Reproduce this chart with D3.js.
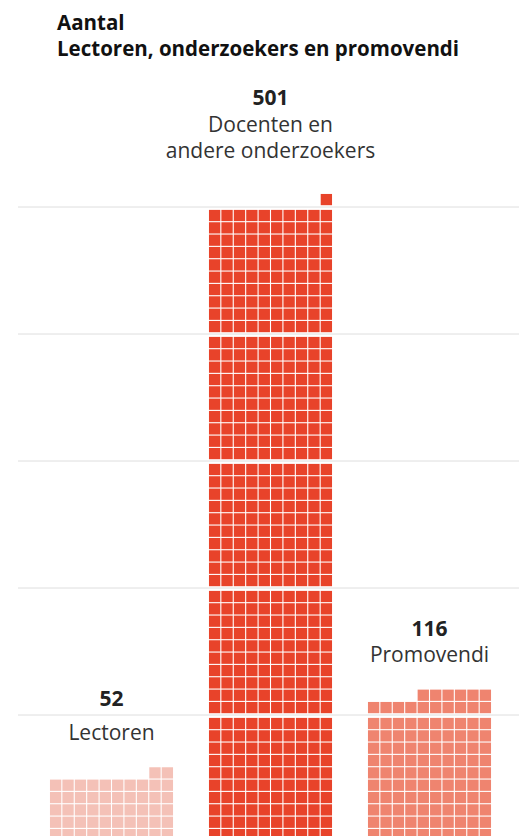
<!DOCTYPE html>
<html>
<head>
<meta charset="utf-8">
<script src="https://cdn.jsdelivr.net/npm/d3@7"></script>
<style>
  body { margin: 0; background: #fff; }
  svg { display: block; font-family: "Open Sans", sans-serif; }
</style>
</head>
<body>
<div id="chart"></div>
<script>
// Data
const categories = ["Lectoren", "Docenten", "Promovendi"];
const labelLines = [["Lectoren"], ["Docenten en", "andere onderzoekers"], ["Promovendi"]];
const counts = [52, 501, 116];
const colors = ["#f4c1b7", "#e8432a", "#ef846f"];
const gridTicks = [100, 200, 300, 400, 500];
const titleLines = ["Aantal", "Lectoren, onderzoekers en promovendi"];

const width = 519;
const height = 836;

// label placement above each column (px), tuned per column
const labelGap = [27, 36, 28];
const numberGap = [34, 27, 26];

const svg = d3.select("#chart").append("svg")
    .attr("width", width)
    .attr("height", height);

const y = d3.scaleLinear().domain([0, 500]).range([842, 207]);
const x = d3.scaleBand()
    .domain(categories)
    .range([32, 509])
    .paddingInner(0.226)
    .paddingOuter(0.113);

// gridlines every 100
svg.append("g")
    .selectAll("line")
    .data(gridTicks)
    .join("line")
        .attr("x1", 18)
        .attr("x2", width)
        .attr("y1", d => y(d))
        .attr("y2", d => y(d))
        .attr("stroke", "#dedede")
        .attr("stroke-width", 1);

// one square per person, in blocks of 10x10
const pad = 1.8;
const gap = 1.1;
const pitchY = (y(0) - y(100) - 2 * pad) / 10;
const pitchX = (x.bandwidth() + gap) / 10;

const cells = [];
categories.forEach((c, ci) => {
    for (let i = 0; i < counts[ci]; i++) {
        const block = Math.floor(i / 100);
        const k = i % 100;
        const row = Math.floor(k / 10);
        const col = 9 - (k % 10);
        cells.push({ c, ci, block, row, col });
    }
});

function cellTop(d) {
    return y(d.block * 100) - pad - d.row * pitchY - (pitchY - gap);
}

svg.append("g")
    .selectAll("rect")
    .data(cells)
    .join("rect")
        .attr("x", d => x(d.c) + d.col * pitchX)
        .attr("y", cellTop)
        .attr("width", pitchX - gap)
        .attr("height", pitchY - gap)
        .attr("fill", d => colors[d.ci]);

// labels
const labels = svg.append("g").attr("text-anchor", "middle");
categories.forEach((c, ci) => {
    const top = d3.min(cells.filter(d => d.ci === ci), cellTop);
    const cx = x(c) + x.bandwidth() / 2;
    const lines = labelLines[ci];
    const lastBase = top - labelGap[ci];
    const lineH = 26;
    lines.forEach((t, li) => {
        labels.append("text")
            .attr("x", cx)
            .attr("y", lastBase - (lines.length - 1 - li) * lineH)
            .attr("font-size", 21)
            .attr("fill", "#333")
            .text(t);
    });
    const firstBase = lastBase - (lines.length - 1) * lineH;
    labels.append("text")
        .attr("x", cx)
        .attr("y", firstBase - numberGap[ci])
        .attr("font-size", 21)
        .attr("font-weight", "bold")
        .attr("fill", "#222")
        .text(d3.format("d")(counts[ci]));
});

// title
svg.append("g")
    .selectAll("text")
    .data(titleLines)
    .join("text")
        .attr("x", 57)
        .attr("y", (d, i) => 30 + i * 26)
        .attr("font-size", 20.5)
        .attr("font-weight", "bold")
        .attr("fill", "#111")
        .text(d => d);
</script>
</body>
</html>
